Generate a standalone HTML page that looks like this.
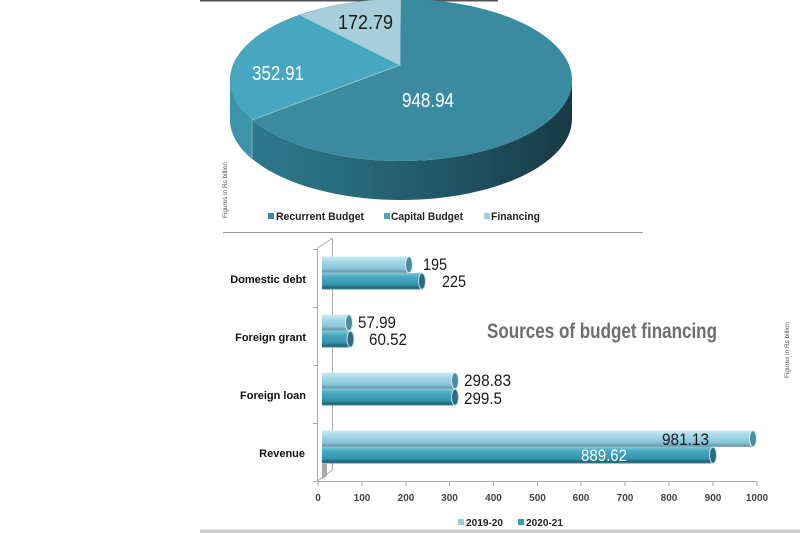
<!DOCTYPE html>
<html><head><meta charset="utf-8"><style>
html,body{margin:0;padding:0;background:#fff;}
svg{display:block;}
text{font-family:"Liberation Sans",Arial,sans-serif;}
</style></head><body>
<svg width="800" height="533" viewBox="0 0 800 533" xmlns="http://www.w3.org/2000/svg">
<defs>
<linearGradient id="sideG" x1="230" y1="0" x2="572" y2="0" gradientUnits="userSpaceOnUse">
<stop offset="0" stop-color="#2f7b8f"/><stop offset="0.35" stop-color="#276a7c"/><stop offset="0.7" stop-color="#1f5060"/><stop offset="1" stop-color="#173a45"/>
</linearGradient>
<linearGradient id="lightB" x1="0" y1="0" x2="0" y2="1">
<stop offset="0" stop-color="#cdeaf3"/><stop offset="0.3" stop-color="#a6d9ea"/><stop offset="0.75" stop-color="#86c3d6"/><stop offset="0.9" stop-color="#6a9dad"/><stop offset="1" stop-color="#8fb0ba"/>
</linearGradient>
<linearGradient id="darkB" x1="0" y1="0" x2="0" y2="1">
<stop offset="0" stop-color="#7cc6da"/><stop offset="0.25" stop-color="#48a8c2"/><stop offset="0.7" stop-color="#3794ad"/><stop offset="0.9" stop-color="#1f6375"/><stop offset="1" stop-color="#4f8a99"/>
</linearGradient>
</defs>

<!-- top line -->
<rect x="200" y="0" width="298" height="1.5" fill="#555"/>

<!-- pie side -->
<path d="M230,80 L230,119 A171,81 0 0,0 572,119 L572,80 A171,81 0 0,1 230,80 Z" fill="url(#sideG)"/>
<path d="M230,80 L230,119 A171,81 0 0,0 252,159 L252,120 A171,81 0 0,1 230,80 Z" fill="#3c93aa"/>
<line x1="252" y1="120" x2="252" y2="159" stroke="#8cc5d4" stroke-width="0.7"/>
<!-- pie top -->
<ellipse cx="401" cy="80" rx="171" ry="81" fill="#3a8aa0"/>
<path d="M400,65 L252,120 A171,81 0 0,1 300,15 Z" fill="#48a6c0"/>
<path d="M400,65 L300,15 A171,81 0 0,1 401,-1 Z" fill="#a7cedb"/>
<path d="M252,120 L400,65 L300,15 M400,65 L400,0" stroke="#9fd0dc" stroke-width="0.8" fill="none"/>

<text x="338" y="29" font-size="20" fill="#1a1a1a" textLength="55" lengthAdjust="spacingAndGlyphs">172.79</text>
<text x="252" y="80" font-size="20" fill="#fff" textLength="52" lengthAdjust="spacingAndGlyphs">352.91</text>
<text x="402" y="107" font-size="20" fill="#fff" textLength="52" lengthAdjust="spacingAndGlyphs">948.94</text>

<!-- top legend -->
<text transform="translate(227,218) rotate(-90)" font-size="6.5" fill="#555" textLength="56" lengthAdjust="spacingAndGlyphs">Figures in Rs billion</text>
<rect x="268" y="213" width="6" height="6" fill="#3a8aa0"/>
<text x="276" y="220" font-size="11" font-weight="bold" fill="#222" textLength="88" lengthAdjust="spacingAndGlyphs">Recurrent  Budget</text>
<rect x="384" y="213" width="6" height="6" fill="#48a6c0"/>
<text x="391" y="220" font-size="11" font-weight="bold" fill="#222" textLength="72" lengthAdjust="spacingAndGlyphs">Capital Budget</text>
<rect x="484" y="213" width="6" height="6" fill="#a7cedb"/>
<text x="491" y="220" font-size="11" font-weight="bold" fill="#222" textLength="49" lengthAdjust="spacingAndGlyphs">Financing</text>

<!-- separator -->
<line x1="223" y1="232.5" x2="643" y2="232.5" stroke="#999" stroke-width="1"/>

<!-- bar chart frame -->
<g stroke="#aaa" stroke-width="1" fill="none">
<line x1="317.5" y1="248" x2="317.5" y2="481"/>
<line x1="332.5" y1="238" x2="332.5" y2="470"/>
<line x1="317.5" y1="248" x2="332.5" y2="238"/>
<line x1="317.5" y1="481" x2="332.5" y2="470"/>
<line x1="317.5" y1="481.5" x2="757" y2="481.5"/>
<line x1="313" y1="249.5" x2="317.5" y2="249.5"/>
<line x1="313" y1="307.5" x2="317.5" y2="307.5"/>
<line x1="313" y1="365.5" x2="317.5" y2="365.5"/>
<line x1="313" y1="423.5" x2="317.5" y2="423.5"/>
<line x1="313" y1="481.5" x2="317.5" y2="481.5"/>
<line x1="318" y1="481" x2="318" y2="486"/>
<line x1="362" y1="481" x2="362" y2="486"/>
<line x1="406" y1="481" x2="406" y2="486"/>
<line x1="449.5" y1="481" x2="449.5" y2="486"/>
<line x1="493.5" y1="481" x2="493.5" y2="486"/>
<line x1="537.5" y1="481" x2="537.5" y2="486"/>
<line x1="581" y1="481" x2="581" y2="486"/>
<line x1="625" y1="481" x2="625" y2="486"/>
<line x1="669" y1="481" x2="669" y2="486"/>
<line x1="713" y1="481" x2="713" y2="486"/>
<line x1="757" y1="481" x2="757" y2="486"/>
</g>
<polygon points="322,464 327,464 327,476 322,479" fill="#aaa"/>

<!-- bars -->
<g>
<rect x="322" y="256.5" width="87" height="16.5" fill="url(#lightB)"/>
<ellipse cx="409" cy="264.75" rx="3.5" ry="8" fill="#4d8c9e" stroke="#d8eef5" stroke-width="1"/>
<rect x="322" y="273" width="100" height="16.5" fill="url(#darkB)"/>
<ellipse cx="422" cy="281.25" rx="3.5" ry="8" fill="#2a6b7d" stroke="#bfe0ea" stroke-width="1"/>

<rect x="322" y="314.5" width="27" height="16.5" fill="url(#lightB)"/>
<ellipse cx="349" cy="322.75" rx="3.5" ry="8" fill="#4d8c9e" stroke="#d8eef5" stroke-width="1"/>
<rect x="322" y="331" width="28.5" height="16.5" fill="url(#darkB)"/>
<ellipse cx="350.5" cy="339.25" rx="3.5" ry="8" fill="#2a6b7d" stroke="#bfe0ea" stroke-width="1"/>

<rect x="322" y="372.5" width="133" height="16.5" fill="url(#lightB)"/>
<ellipse cx="455" cy="380.75" rx="3.5" ry="8" fill="#4d8c9e" stroke="#d8eef5" stroke-width="1"/>
<rect x="322" y="389" width="133" height="16.5" fill="url(#darkB)"/>
<ellipse cx="455" cy="397.25" rx="3.5" ry="8" fill="#2a6b7d" stroke="#bfe0ea" stroke-width="1"/>

<rect x="322" y="430.5" width="431" height="16.5" fill="url(#lightB)"/>
<ellipse cx="753" cy="438.75" rx="3.5" ry="8" fill="#4d8c9e" stroke="#d8eef5" stroke-width="1"/>
<rect x="322" y="447" width="391" height="16.5" fill="url(#darkB)"/>
<ellipse cx="713" cy="455.25" rx="3.5" ry="8" fill="#2a6b7d" stroke="#bfe0ea" stroke-width="1"/>
</g>

<!-- value labels -->
<g font-size="17" fill="#1a1a1a">
<text x="423" y="270" textLength="24" lengthAdjust="spacingAndGlyphs">195</text>
<text x="442" y="287" textLength="24" lengthAdjust="spacingAndGlyphs">225</text>
<text x="358" y="328" textLength="38" lengthAdjust="spacingAndGlyphs">57.99</text>
<text x="369" y="345" textLength="38" lengthAdjust="spacingAndGlyphs">60.52</text>
<text x="464" y="386" textLength="47" lengthAdjust="spacingAndGlyphs">298.83</text>
<text x="464" y="404" textLength="38" lengthAdjust="spacingAndGlyphs">299.5</text>
<text x="662" y="445" textLength="47" lengthAdjust="spacingAndGlyphs">981.13</text>
<text x="581" y="461" fill="#fff" textLength="46" lengthAdjust="spacingAndGlyphs">889.62</text>
</g>

<!-- category labels -->
<g font-size="11" font-weight="bold" fill="#111" text-anchor="end">
<text x="306" y="283">Domestic debt</text>
<text x="306" y="341">Foreign grant</text>
<text x="306" y="399">Foreign loan</text>
<text x="305" y="457">Revenue</text>
</g>

<!-- tick labels -->
<g font-size="10" font-weight="bold" fill="#444" text-anchor="middle">
<text x="318" y="501">0</text>
<text x="362" y="501">100</text>
<text x="406" y="501">200</text>
<text x="449.5" y="501">300</text>
<text x="493.5" y="501">400</text>
<text x="537.5" y="501">500</text>
<text x="581" y="501">600</text>
<text x="625" y="501">700</text>
<text x="669" y="501">800</text>
<text x="713" y="501">900</text>
<text x="757" y="501">1000</text>
</g>

<!-- title -->
<text x="487" y="338" font-size="21" font-weight="bold" fill="#6d6e70" textLength="230" lengthAdjust="spacingAndGlyphs">Sources of budget financing</text>
<text transform="translate(789,378) rotate(-90)" font-size="6.5" fill="#555" textLength="56" lengthAdjust="spacingAndGlyphs">Figures in Rs billion</text>

<!-- bottom legend -->
<rect x="458" y="519" width="6" height="6" fill="#8fcfe2"/>
<text x="466" y="526" font-size="10" font-weight="bold" fill="#222" textLength="37" lengthAdjust="spacingAndGlyphs">2019-20</text>
<rect x="518" y="519" width="6" height="6" fill="#3a9bb5"/>
<text x="526" y="526" font-size="10" font-weight="bold" fill="#222" textLength="37" lengthAdjust="spacingAndGlyphs">2020-21</text>

<!-- bottom band -->
<rect x="200" y="529.5" width="600" height="3.5" fill="#cfcfcf"/>
</svg>
</body></html>
